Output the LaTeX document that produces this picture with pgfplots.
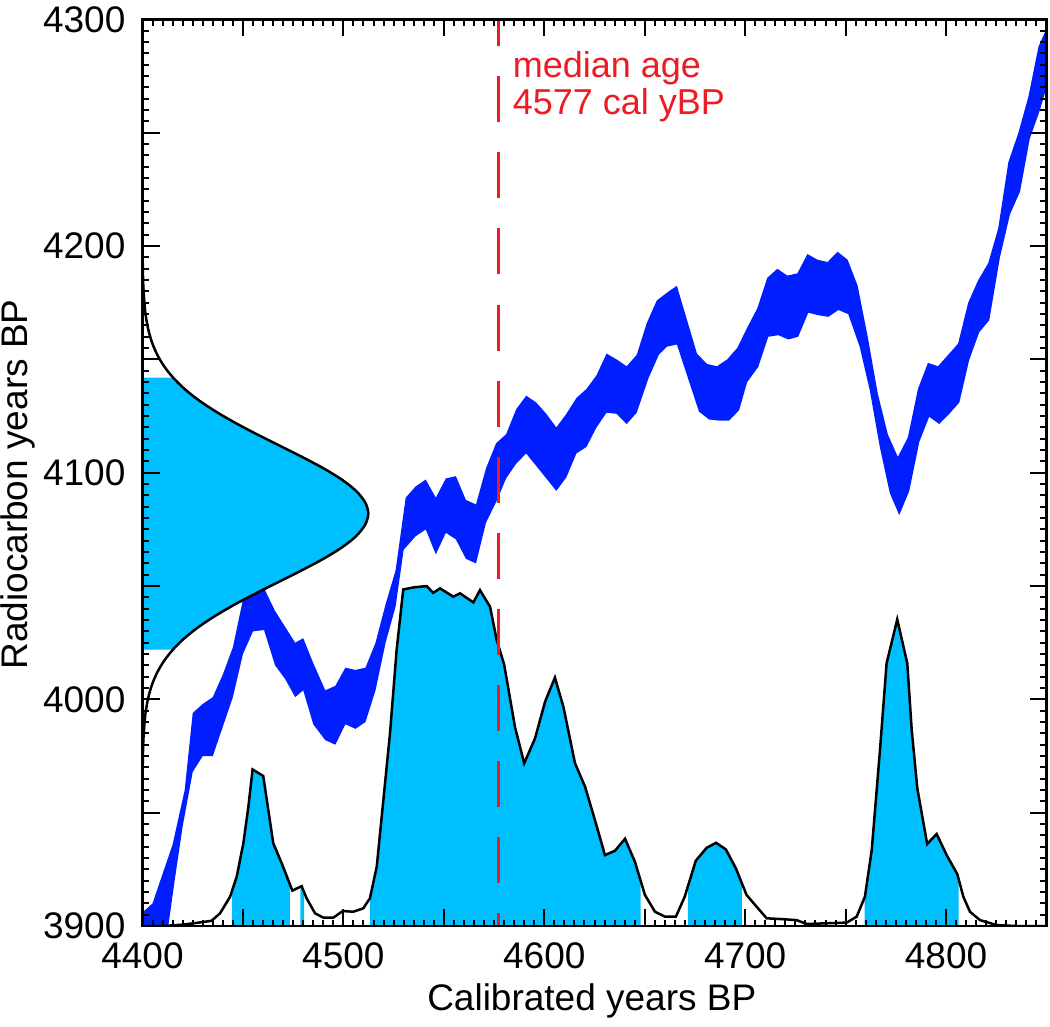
\documentclass[border=0pt]{standalone}
\usepackage{fontspec}
\setmainfont{Liberation Sans}
\usepackage{pgfplots}
\pgfplotsset{compat=1.18}
\usepgfplotslibrary{fillbetween}
\definecolor{bandblue}{RGB}{0,30,255}
\definecolor{skyb}{RGB}{0,191,255}
\definecolor{medred}{RGB}{237,28,36}

\pgfplotstableread{
x y
4400 3906
4405 3910
4410 3923
4415 3936
4421 3960
4425 3994
4430 3998
4435 4001
4440 4011
4445 4023
4450 4044
4455 4053
4460 4050
4466 4039
4471 4032
4476 4025
4480 4027
4485 4016
4491 4004
4496 4006
4501 4014
4506 4013
4511 4014
4516 4025
4521 4042
4526 4057
4531 4089
4536 4094
4541 4097
4546 4089
4551 4097.5
4556 4098.5
4561 4088
4566 4086
4571 4102
4576 4113
4581 4117
4586 4128
4591 4134
4596 4131
4601 4126
4606 4120
4611 4126
4616 4133
4621 4137
4626 4143
4631 4152.6
4636 4150
4641 4147
4646 4152
4651 4166
4656 4176
4661 4179.4
4666 4182.5
4676 4152.6
4681 4148
4686 4147
4691 4150
4696 4155
4701 4164
4706 4172.5
4711 4186
4716 4190
4721 4187
4726 4188
4731 4196.5
4736 4194
4741 4193
4746 4197.5
4751 4194
4756 4182.5
4761 4160
4766 4135
4771 4117
4776 4107
4781 4115.6
4786 4137
4791 4148.5
4796 4147
4801 4152
4806 4157
4811 4175
4816 4185
4821 4192.5
4826 4208
4831 4237
4836 4250
4841 4266
4846 4288
4850 4296
}\bandup

\pgfplotstableread{
x y
4400 3860
4413 3901
4416 3920
4420 3944
4425 3968
4430 3975
4435 3975
4440 3988
4445 4001
4450 4020
4455 4030
4460.5 4030.6
4466 4015
4471 4009
4476 4001
4480 4004
4485 3989
4491 3982
4496 3980
4501 3989
4506 3987
4511 3990
4516 4004
4521 4025
4526 4041
4530 4066
4536 4072
4541 4075
4546 4064
4551 4073.5
4556 4070.6
4561 4062
4566 4060
4571 4078
4576 4087
4581 4097.5
4586 4104
4591 4108.5
4596 4103
4601 4097.5
4606 4092
4611 4098
4616 4108.5
4621 4111.4
4626 4120
4631 4126.5
4636 4126
4641 4121.5
4646 4126.5
4652 4142
4657 4152
4661 4155.6
4666 4156.6
4677 4127
4682 4123.5
4687 4123
4692 4123
4697 4127.6
4701 4140
4706.5 4146.7
4711.5 4160
4716.5 4160.7
4721.5 4158.8
4726.4 4160
4731.4 4170.6
4736.4 4169.5
4741.4 4168.8
4746.4 4171.8
4751.3 4170
4757 4155.6
4762 4136.5
4767 4111.5
4772 4091
4776.7 4081.3
4781.7 4092
4786.7 4113.7
4791.6 4124.7
4796.6 4121.5
4801.6 4126
4806.6 4131
4811.5 4149.7
4816.5 4162
4821.5 4167.3
4826.8 4195
4831.8 4214
4836.8 4224
4841.7 4247.5
4846.7 4260
4850 4270
}\bandlo

\pgfplotstableread{
x y
4400 3900
4410 3900
4420 3900.6
4428 3901.5
4434.4 3902.3
4438.6 3905.6
4443.6 3912.9
4446.9 3921.8
4450.2 3936.5
4452.7 3952.6
4454.8 3969.1
4460.1 3966.2
4465.1 3936.5
4469.3 3927.7
4474.6 3915.6
4479.2 3917.6
4481.7 3912.2
4485.9 3905.6
4490.0 3903.7
4495.0 3903.7
4499.7 3906.6
4504.9 3906.3
4509.9 3907.8
4513.2 3912.2
4516.6 3926.2
4519.9 3955.6
4523.2 3985.0
4526.5 4021.8
4529.8 4048.5
4534.8 4049.4
4541.5 4050
4544.7 4047.0
4548.1 4049
4554.7 4045.3
4558.0 4046.8
4564.7 4042.8
4568.0 4048.2
4573.0 4040.9
4576.3 4026.2
4580.0 4015.5
4585.4 3987.9
4590.0 3971.8
4595.4 3982.8
4600.4 3999
4605.3 4009.6
4609.5 3996.8
4615.3 3971.8
4620.3 3961.5
4625.2 3946.8
4630.2 3931.3
4635.2 3933.2
4640.2 3938.5
4645.1 3928.4
4650.1 3913.7
4655.1 3906.3
4660.1 3904.1
4665.5 3904.1
4669.9 3912.9
4675.4 3928.8
4680.8 3934.5
4685.5 3936.7
4690.4 3933.8
4695.4 3925.4
4700.7 3913.7
4705.7 3908.5
4710.7 3903.4
4719.0 3903
4725.6 3902.6
4730.6 3900.9
4740.6 3901.2
4750.5 3901.5
4755.5 3904.1
4759.6 3912.9
4763.0 3933.5
4767.1 3977.6
4770.4 4015.9
4775.7 4035.3
4780.7 4015.9
4782.9 3986.5
4785.7 3960.7
4790.6 3936.2
4795.3 3940.6
4800.3 3931.3
4805.6 3922.9
4808.6 3912.9
4811.9 3906.3
4816.9 3902.6
4825.2 3900.4
4835 3900
4850 3900
}\distr

\pgfplotstableread{
x y
4400.02 3962
4400.13 3972
4400.43 3982
4401.24 3992
4402.03 3997
4403.21 4002
4404.94 4007
4407.39 4012
4410.75 4017
4415.2 4022
4420.9 4027
4428.0 4032
4436.5 4037
4446.2 4042
4456.9 4047
4468.2 4052
4479.4 4057
4490.0 4062
4499.2 4067
4506.3 4072
4510.8 4077
4512.4 4082
4510.8 4087
4506.3 4092
4499.2 4097
4490.0 4102
4479.4 4107
4468.2 4112
4456.9 4117
4446.2 4122
4436.5 4127
4428.0 4132
4420.9 4137
4415.2 4142
4410.75 4147
4407.39 4152
4404.94 4157
4403.21 4162
4402.03 4167
4401.24 4172
4400.43 4182
4400.13 4192
4400.02 4202
}\gaussc

\begin{document}
\begin{tikzpicture}
\begin{axis}[
  scale only axis, width=271.2pt, height=271.95pt,
  xmin=4400, xmax=4850, ymin=3900, ymax=4300,
  xtick={4400,4450,...,4850},
  xticklabels={4400,,4500,,4600,,4700,,4800,},
  ytick={3900,3950,...,4300},
  yticklabels={3900,,4000,,4100,,4200,,4300},
  minor tick num=9,
  tick align=inside, tick pos=both,
  major tick length=5.1pt, minor tick length=1.9pt,
  every tick/.style={black, line width=0.6pt},
  axis line style={line width=0.8pt},
  axis on top,
  ticklabel style={font=\fontsize{11.1}{13}\selectfont},
  yticklabel style={xshift=-1.6pt},
  xticklabel style={yshift=-1.5pt},
  label style={font=\fontsize{11.1}{13}\selectfont},
  xlabel={Calibrated years BP},
  ylabel={Radiocarbon years BP},
  xlabel style={at={(axis description cs:0.497,-0.083)}, anchor=center},
  ylabel style={at={(axis description cs:-0.138,0.487)}, anchor=center},
]
% calibration band
\addplot[draw=none, name path=up, forget plot] table {\bandup};
\addplot[draw=none, name path=lo, forget plot] table {\bandlo};
\addplot[fill=bandblue, draw=none] fill between[of=up and lo];

% radiocarbon date gaussian
\addplot[fill=skyb, draw=none] coordinates {
(4400,4022) (4415.2,4022) (4420.9,4027) (4428,4032) (4436.5,4037) (4446.2,4042)
(4456.9,4047) (4468.2,4052) (4479.4,4057) (4490,4062) (4499.2,4067) (4506.3,4072)
(4510.8,4077) (4512.4,4082) (4510.8,4087) (4506.3,4092) (4499.2,4097) (4490,4102)
(4479.4,4107) (4468.2,4112) (4456.9,4117) (4446.2,4122) (4436.5,4127) (4428,4132)
(4420.9,4137) (4415.2,4142) (4400,4142)} -- cycle;
\addplot[black, line width=0.75pt, smooth] table {\gaussc};

% calibrated distribution
\addplot[draw=none, name path=dist, forget plot] table {\distr};
\addplot[draw=none, name path=base, forget plot] coordinates {(4400,3900) (4850,3900)};
\addplot[fill=skyb, draw=none] fill between[of=dist and base, soft clip={domain=4444.5:4473.3}];
\addplot[fill=skyb, draw=none] fill between[of=dist and base, soft clip={domain=4478.6:4480.4}];
\addplot[fill=skyb, draw=none] fill between[of=dist and base, soft clip={domain=4513.3:4648}];
\addplot[fill=skyb, draw=none] fill between[of=dist and base, soft clip={domain=4671.5:4698.4}];
\addplot[fill=skyb, draw=none] fill between[of=dist and base, soft clip={domain=4759.5:4806.3}];
\addplot[black, line width=0.75pt] table {\distr};

% median
\addplot[medred, line width=0.9pt, dash pattern=on 13.8pt off 9pt, dash phase=5.7pt] coordinates {(4577,4300) (4577,3900)};
\node[anchor=north west, align=left, text=medred, inner sep=0pt,
      font=\fontsize{10.8}{11.1}\selectfont] at (axis cs:4584,4286) {median age\\4577 cal yBP};
\end{axis}
\pgfresetboundingbox
\path[use as bounding box] (-42.75pt,-30pt) rectangle (272.25pt,277.8pt);
\end{tikzpicture}
\end{document}
